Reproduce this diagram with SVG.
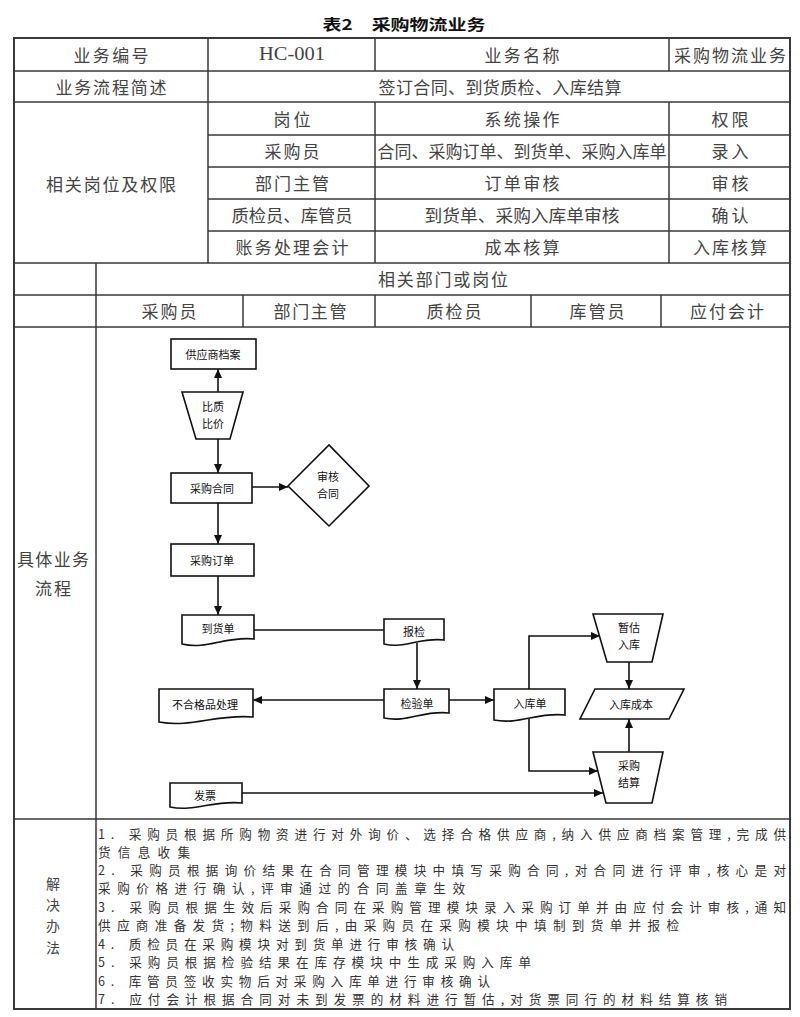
<svg xmlns="http://www.w3.org/2000/svg" width="800" height="1017" viewBox="0 0 800 1017">
<defs>
<style>
.tt{font-family:"Noto Sans CJK SC","Liberation Sans",sans-serif;font-size:15px;font-weight:bold;fill:#111;text-anchor:middle;dominant-baseline:central}
.t{font-family:"Noto Sans CJK SC","Liberation Sans",sans-serif;font-size:17px;fill:#444;text-anchor:middle;dominant-baseline:central}
.tv{font-family:"Noto Sans CJK SC","Liberation Sans",sans-serif;font-size:14px;fill:#444;text-anchor:middle;dominant-baseline:central}
.ts{font-family:"Liberation Serif","Noto Sans CJK SC",serif;font-size:18px;fill:#444;text-anchor:middle;dominant-baseline:central}
.b{font-family:"Noto Sans CJK SC","Liberation Sans",sans-serif;font-size:12.6px;fill:#333;text-anchor:start;dominant-baseline:central}
.grid{fill:none;stroke:#3a3a3a;stroke-width:1.5}
.n{fill:#fff;stroke:#111;stroke-width:1.6}
.f{font-family:"Noto Sans CJK SC","Liberation Sans",sans-serif;font-size:11px;fill:#111;text-anchor:middle;dominant-baseline:central}
.c{fill:none;stroke:#111;stroke-width:1.6}
</style>
<marker id="ah" markerUnits="userSpaceOnUse" markerWidth="9" markerHeight="8" refX="9" refY="4" orient="auto">
<path d="M0,0 L9,4 L0,8 Z" fill="#111"/>
</marker>
</defs>
<rect width="800" height="1017" fill="#fff"/>

<text class="tt" x="404" y="23" textLength="163" lengthAdjust="spacingAndGlyphs">表2　采购物流业务</text>

<g id="table-grid" class="grid">
<rect x="14" y="38" width="776" height="971" stroke-width="2"/>
<path d="M14,71 H790 M14,102 H790 M208,135 H790 M208,167 H790 M208,199 H790 M208,231 H790 M14,263 H790 M14,295 H790 M14,327 H790 M14,819 H790"/>
<path d="M208,38 V263 M375,38 V71 M669,38 V71 M375,102 V263 M669,102 V263 M96,263 V1009 M243,295 V327 M375,295 V327 M531,295 V327 M661,295 V327"/>
</g>

<g id="table-text">
<text class="t" x="111" y="54" textLength="75" lengthAdjust="spacing">业务编号</text>
<text class="ts" x="292" y="54" textLength="66" lengthAdjust="spacingAndGlyphs">HC-001</text>
<text class="t" x="522" y="54" textLength="75" lengthAdjust="spacing">业务名称</text>
<text class="t" x="730" y="54" textLength="112" lengthAdjust="spacing">采购物流业务</text>
<text class="t" x="111" y="86" textLength="111" lengthAdjust="spacing">业务流程简述</text>
<text class="t" x="500" y="86" textLength="243" lengthAdjust="spacing">签订合同、到货质检、入库结算</text>
<text class="t" x="111" y="183" textLength="130" lengthAdjust="spacing">相关岗位及权限</text>
<text class="t" x="292" y="118" textLength="37" lengthAdjust="spacing">岗位</text>
<text class="t" x="522" y="118" textLength="75" lengthAdjust="spacing">系统操作</text>
<text class="t" x="730" y="118" textLength="37" lengthAdjust="spacing">权限</text>
<text class="t" x="292" y="150" textLength="55" lengthAdjust="spacing">采购员</text>
<text class="t" x="522" y="150" textLength="289" lengthAdjust="spacingAndGlyphs">合同、采购订单、到货单、采购入库单</text>
<text class="t" x="730" y="150" textLength="37" lengthAdjust="spacing">录入</text>
<text class="t" x="292" y="182" textLength="74" lengthAdjust="spacing">部门主管</text>
<text class="t" x="522" y="182" textLength="75" lengthAdjust="spacing">订单审核</text>
<text class="t" x="730" y="182" textLength="37" lengthAdjust="spacing">审核</text>
<text class="t" x="292" y="214" textLength="121" lengthAdjust="spacingAndGlyphs">质检员、库管员</text>
<text class="t" x="522" y="214" textLength="195" lengthAdjust="spacingAndGlyphs">到货单、采购入库单审核</text>
<text class="t" x="730" y="214" textLength="37" lengthAdjust="spacing">确认</text>
<text class="t" x="292" y="246" textLength="113" lengthAdjust="spacing">账务处理会计</text>
<text class="t" x="522" y="246" textLength="75" lengthAdjust="spacing">成本核算</text>
<text class="t" x="730" y="246" textLength="74" lengthAdjust="spacing">入库核算</text>
<text class="t" x="443" y="278" textLength="130" lengthAdjust="spacing">相关部门或岗位</text>
<text class="t" x="169" y="310" textLength="55" lengthAdjust="spacing">采购员</text>
<text class="t" x="310" y="310" textLength="73" lengthAdjust="spacing">部门主管</text>
<text class="t" x="454" y="310" textLength="55" lengthAdjust="spacing">质检员</text>
<text class="t" x="597" y="310" textLength="55" lengthAdjust="spacing">库管员</text>
<text class="t" x="727" y="310" textLength="74" lengthAdjust="spacing">应付会计</text>
<text class="t" x="53" y="558" textLength="72" lengthAdjust="spacing">具体业务</text>
<text class="t" x="53" y="587" textLength="36" lengthAdjust="spacing">流程</text>
<text class="tv" x="53" y="883">解</text>
<text class="tv" x="53" y="904">决</text>
<text class="tv" x="53" y="925">办</text>
<text class="tv" x="53" y="947">法</text>
</g>

<g id="solution-text">
<text class="b" x="98" y="833" textLength="688" lengthAdjust="spacing">1. 采购员根据所购物资进行对外询价、选择合格供应商,纳入供应商档案管理,完成供</text>
<text class="b" x="98" y="851" textLength="92" lengthAdjust="spacing">货信息收集</text>
<text class="b" x="98" y="869" textLength="688" lengthAdjust="spacing">2. 采购员根据询价结果在合同管理模块中填写采购合同,对合同进行评审,核心是对</text>
<text class="b" x="98" y="887" textLength="367" lengthAdjust="spacing">采购价格进行确认,评审通过的合同盖章生效</text>
<text class="b" x="98" y="906" textLength="688" lengthAdjust="spacing">3. 采购员根据生效后采购合同在采购管理模块录入采购订单并由应付会计审核,通知</text>
<text class="b" x="98" y="924" textLength="581" lengthAdjust="spacing">供应商准备发货;物料送到后,由采购员在采购模块中填制到货单并报检</text>
<text class="b" x="98" y="943" textLength="356" lengthAdjust="spacing">4. 质检员在采购模块对到货单进行审核确认</text>
<text class="b" x="98" y="961" textLength="433" lengthAdjust="spacing">5. 采购员根据检验结果在库存模块中生成采购入库单</text>
<text class="b" x="98" y="980" textLength="392" lengthAdjust="spacing">6. 库管员签收实物后对采购入库单进行审核确认</text>
<text class="b" x="98" y="998" textLength="629" lengthAdjust="spacing">7. 应付会计根据合同对未到发票的材料进行暂估,对货票同行的材料结算核销</text>
</g>

<g id="connectors">
<path class="c" d="M218,392 V369" marker-end="url(#ah)"/>
<path class="c" d="M218,439 V473" marker-end="url(#ah)"/>
<path class="c" d="M252,487 H288" marker-end="url(#ah)"/>
<path class="c" d="M218,503 V544" marker-end="url(#ah)"/>
<path class="c" d="M218,576 V615" marker-end="url(#ah)"/>
<path class="c" d="M254,630 H384"/>
<path class="c" d="M417,643 V689" marker-end="url(#ah)"/>
<path class="c" d="M384,700 H253" marker-end="url(#ah)"/>
<path class="c" d="M449,700 H494" marker-end="url(#ah)"/>
<path class="c" d="M529,689 V636 H600" marker-end="url(#ah)"/>
<path class="c" d="M629,662 V689" marker-end="url(#ah)"/>
<path class="c" d="M629,752 V719" marker-end="url(#ah)"/>
<path class="c" d="M529,719 V771 H598" marker-end="url(#ah)"/>
<path class="c" d="M242,793 H603" marker-end="url(#ah)"/>
</g>

<g id="n-supplier">
<rect class="n" x="171" y="339" width="85" height="30"/>
<text class="f" x="213" y="354">供应商档案</text>
</g>
<g id="n-compare">
<path class="n" d="M182,392 H243 L230,439 H196 Z"/>
<text class="f" x="213" y="406">比质</text>
<text class="f" x="213" y="423">比价</text>
</g>
<g id="n-contract">
<rect class="n" x="171" y="473" width="81" height="30"/>
<text class="f" x="212" y="488">采购合同</text>
</g>
<g id="n-review">
<path class="n" d="M288,486 L329,445 L369,486 L329,526 Z"/>
<text class="f" x="328" y="476">审核</text>
<text class="f" x="328" y="493">合同</text>
</g>
<g id="n-order">
<rect class="n" x="171" y="544" width="83" height="32"/>
<text class="f" x="212" y="560">采购订单</text>
</g>
<g id="n-arrival">
<path class="n" d="M182,615 H254 V639 C225,636 207,650 182,644 Z"/>
<text class="f" x="218" y="628">到货单</text>
</g>
<g id="n-inspect-req">
<path class="n" d="M384,619 H444 V640 C420,637 405,649 384,644 Z"/>
<text class="f" x="414" y="631">报检</text>
</g>
<g id="n-inspect">
<path class="n" d="M384,689 H449 V713 C423,710 407,723 384,718 Z"/>
<text class="f" x="417" y="703">检验单</text>
</g>
<g id="n-reject">
<path class="n" d="M159,689 H253 V717 C215,714 192,728 159,722 Z"/>
<text class="f" x="205" y="704">不合格品处理</text>
</g>
<g id="n-receipt">
<path class="n" d="M494,689 H565 V715 C537,712 519,725 494,720 Z"/>
<text class="f" x="530" y="703">入库单</text>
</g>
<g id="n-estimate">
<path class="n" d="M593,614 H663 L652,662 H607 Z"/>
<text class="f" x="629" y="627">暂估</text>
<text class="f" x="629" y="644">入库</text>
</g>
<g id="n-cost">
<path class="n" d="M595,689 H684 L669,719 H580 Z"/>
<text class="f" x="631" y="704">入库成本</text>
</g>
<g id="n-settle">
<path class="n" d="M593,752 H663 L652,803 H606 Z"/>
<text class="f" x="629" y="765">采购</text>
<text class="f" x="629" y="782">结算</text>
</g>
<g id="n-invoice">
<path class="n" d="M170,783 H242 V803 C213,800 195,812 170,807 Z"/>
<text class="f" x="205" y="795">发票</text>
</g>
</svg>
